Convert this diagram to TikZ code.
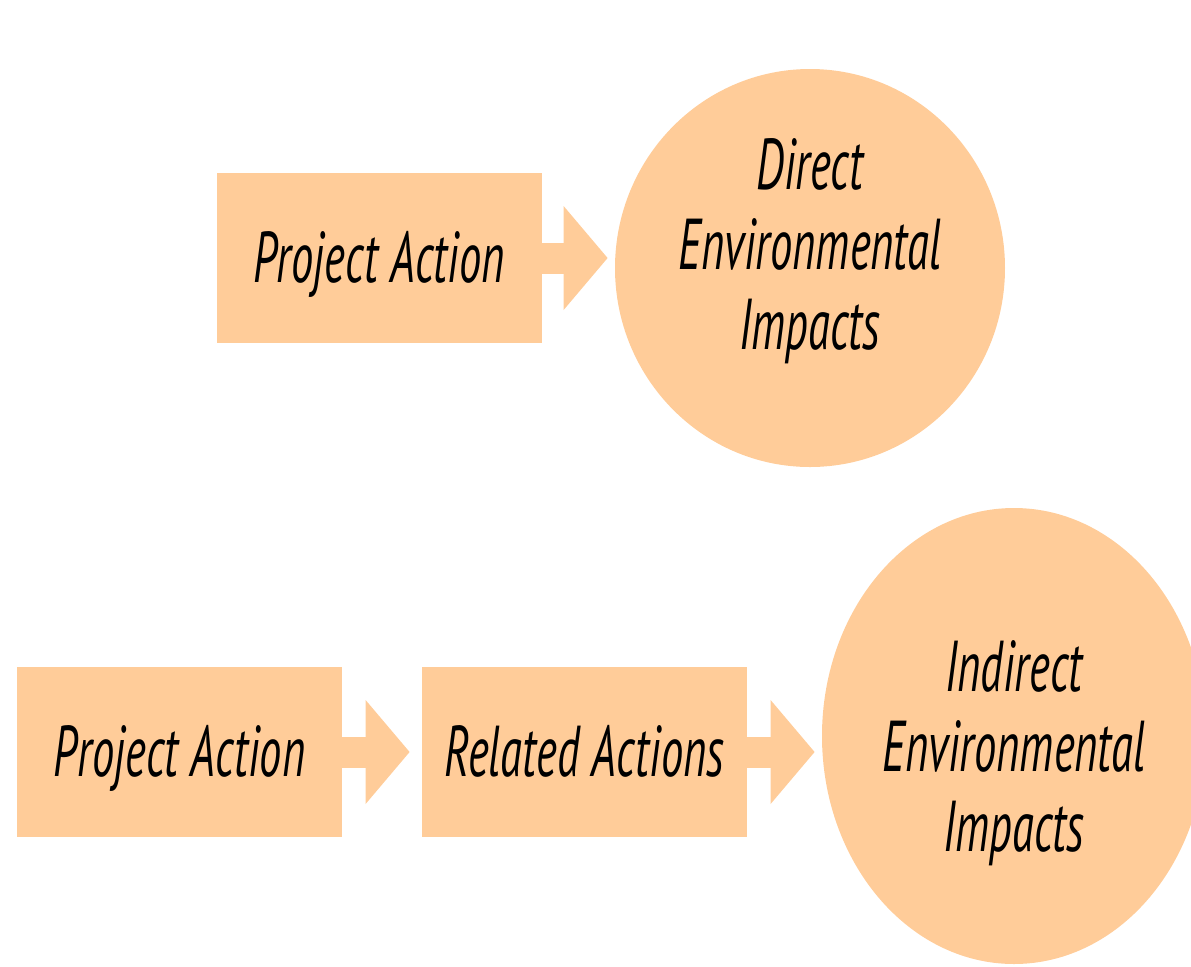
\documentclass[tikz,border=0pt]{standalone}
\usepackage{fontspec}
\usetikzlibrary{arrows.meta,positioning,shapes.geometric}
\usepackage{xcolor}

\definecolor{peach}{HTML}{FFCC99}
\newfontfamily\labelfont{PT Sans Italic}[FakeStretch=0.62]

\begin{document}
\begin{tikzpicture}[
      x=0.5pt, y=-0.5pt,
      txt/.style={font=\labelfont\fontsize{36}{40}\selectfont, align=center, text=black},
      box/.style={txt, fill=peach, minimum width=162.5pt, minimum height=85pt,
                  inner sep=0pt, text height=24.5pt, text depth=0pt},
      blob/.style={ellipse, fill=peach, inner sep=0pt},
      flow/.style={draw=peach, line width=15.5pt,
                   -{Triangle[length=22pt, width=52pt, line width=0pt]}}
    ]
    \useasboundingbox (0,0) rectangle (1191,966);
    \clip (0,0) rectangle (1191,966);

    % ---- direct impacts ----
    \node[box] (pa1) at (379,258) {Project Action};
    \node[blob, minimum width=195pt, minimum height=199pt] (dei) at (810,268) {};
    \node[txt] (deitxt) at ([yshift=8.5pt]dei.center)
      {Direct\\ Environmental\\ Impacts};

    % ---- indirect impacts ----
    \node[box] (pa2) at (179.5,752) {Project Action};
    \node[box] (ra) at (584.5,752) {Related Actions};
    \node[blob, minimum width=192pt, minimum height=228pt] (iei) at (1014,736) {};
    \node[txt] (ieitxt) at ([yshift=-8.5pt]iei.center)
      {Indirect\\ Environmental\\ Impacts};

    \draw[flow] (pa1.east) -- ([xshift=-3.5pt]pa1.east -| dei.west);
    \draw[flow] (pa2.east) -- ([xshift=-6pt]ra.west);
    \draw[flow] (ra.east) -- ([xshift=-3.5pt]ra.east -| iei.west);
  \end{tikzpicture}
\end{document}
